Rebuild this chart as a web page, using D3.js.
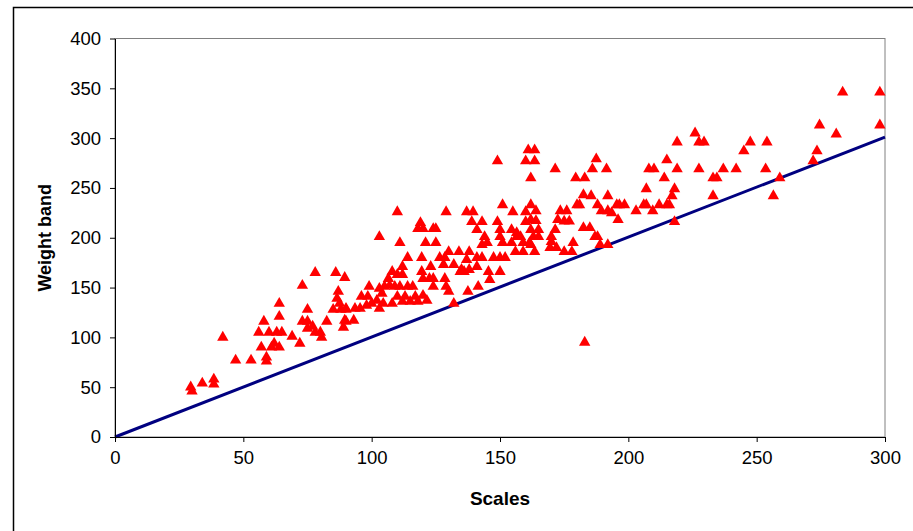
<!DOCTYPE html>
<html>
<head>
<meta charset="utf-8">
<script src="https://cdn.jsdelivr.net/npm/d3@7/dist/d3.min.js"></script>
<style>
  body { margin: 0; background: white; }
  svg { display: block; font-family: "Liberation Sans", Arial, sans-serif; }
</style>
</head>
<body>
<main></main>
<script>
// scales reading (x) and weight band (y)
const scales = [
  29.5, 30, 34, 38.5, 38.5, 42, 47, 53, 59, 59, 57, 58, 56, 60, 63, 65, 61, 62, 64, 64, 64, 69, 72, 73, 78,
  75, 73, 75, 75, 77, 78, 80, 80.5, 82.5, 86, 89.5, 87, 86.5, 87.5, 85, 88, 90, 90, 89,
  110, 103, 111, 119, 118, 120, 124, 125, 129, 137, 139.5, 139, 143, 141, 151, 155, 160, 149, 150, 154.5,
  156.5, 160, 144, 145, 143, 150, 151, 156.5, 158, 159, 154.5, 156, 159, 161.5, 121, 125, 130, 134, 138,
  114, 119.5, 126.5, 128.5, 137, 141, 143, 147.5, 150, 152, 112, 123, 128, 132, 135, 138, 141, 108, 110,
  106.5, 112, 119.5, 120, 122.5, 124, 128.5, 134.5, 136, 145.5, 150, 146, 129, 124, 99, 103, 105, 107, 109,
  111, 114, 116, 120, 117, 113, 115, 118, 121.5, 96, 98.5, 102, 104, 110, 108, 112, 90, 93.5, 95.5, 98, 100,
  103, 104.5, 89.5, 93, 132, 137.5, 141.5, 130,
  149, 161, 163.5, 160, 163.5, 162, 171.5, 179.5, 183, 187.5, 186, 191.5, 208, 210, 215, 214, 219, 219, 207,
  218, 162, 164, 162, 164, 162, 165, 165, 163, 163.5, 162, 170, 169.5, 172, 175, 178, 178.5, 171.5, 170,
  173.5, 176, 172.5, 175, 177, 180, 181, 182.5, 185.5, 188, 189.5, 192, 192, 195.5, 196.5, 198.5, 196, 193.5,
  182.5, 185, 187, 188, 189, 192, 203, 206, 207, 209.5, 212, 215, 216, 217, 218,
  226, 227.5, 229.5, 247.5, 254, 281, 245, 273.5, 272, 227.5, 237, 242, 253.5, 233, 234.5, 259, 233, 256.5,
  283.5, 298, 274.5, 298, 183
]
const weights = [
  50, 46, 54, 58, 53, 100, 77, 77, 80, 76, 90, 116, 105, 105, 105, 105, 90, 94, 90, 134, 121, 101, 94, 152, 165,
  128, 116, 116, 109, 111, 105, 105, 100, 116, 165, 160, 146, 139, 134, 128, 128, 128, 116, 110,
  226, 201, 195, 215, 209, 209, 209, 209, 226, 226, 226, 216, 216, 208, 233, 226, 226, 216, 208, 208,
  205, 216, 201, 195, 193, 201, 195, 201, 201, 195, 195, 186, 186, 195, 195, 195, 186, 186, 186,
  180, 180, 180, 180, 178, 180, 180, 180, 180, 180, 171, 171, 173, 173, 168, 168, 171, 166, 163,
  159, 163, 166, 159, 159, 159, 159, 166, 166, 166, 166, 158, 151, 151, 151, 149, 151, 152, 151,
  151, 151, 151, 142, 141, 141, 136, 136, 137, 141, 141, 137, 144, 141, 134, 136, 129, 129, 129, 132, 134,
  129, 134, 117, 117, 134, 146, 151, 146,
  277, 288, 288, 277, 277, 260, 269, 260, 260, 279, 269, 269, 269, 269, 278, 260, 269, 296, 249,
  249, 233, 227, 218, 217, 208, 208, 201, 201, 186, 193, 196, 190, 190, 186, 186, 195, 208, 201,
  227, 227, 218, 216.5, 216.5, 233, 233, 243, 242, 233, 227, 227, 242, 233, 233, 233, 218, 225,
  210, 210, 201, 201, 193, 193, 227, 233, 233, 227, 233, 233, 233, 242, 216,
  305, 296, 296, 296, 296, 304, 287, 287, 277, 269, 269, 269, 269, 260, 260, 260, 242, 242,
  346, 346, 313, 313, 95
]
const fitLine = [[0, 0], [300, 301]]

const xTicks = [0, 50, 100, 150, 200, 250, 300]
const yTicks = [0, 50, 100, 150, 200, 250, 300, 350, 400]

const svgWidth = 913
const svgHeight = 531

const plotLeft = 115, plotRight = 885, plotTop = 38.5, plotBottom = 437

let svg = d3.select("main")
  .append("svg")
  .attr("width", svgWidth)
  .attr("height", svgHeight)

// chart area border
svg.append("rect")
  .attr("x", 13.5)
  .attr("y", 7.5)
  .attr("width", svgWidth + 10)
  .attr("height", svgHeight + 10)
  .attr("fill", "white")
  .attr("stroke", "black")
  .attr("stroke-width", 1.5)

let xScale = d3.scaleLinear().domain([0, 300]).range([plotLeft, plotRight])
let yScale = d3.scaleLinear().domain([0, 400]).range([plotBottom, plotTop])

// plot area outline (grey top / right)
svg.append("rect")
  .attr("x", plotLeft)
  .attr("y", plotTop)
  .attr("width", plotRight - plotLeft)
  .attr("height", plotBottom - plotTop)
  .attr("fill", "white")
  .attr("stroke", "#808080")
  .attr("stroke-width", 1)

// fit line
svg.append("path")
  .datum(fitLine)
  .attr("d", d3.line().x(d => xScale(d[0])).y(d => yScale(d[1])))
  .attr("fill", "none")
  .attr("stroke", "#000080")
  .attr("stroke-width", 3)

// points
let pts = scales.map((s, i) => ({ x: s, y: weights[i] }))
svg.append("g")
  .selectAll("path")
  .data(pts)
  .enter()
  .append("path")
  .attr("d", d3.symbol().type(d3.symbolTriangle).size(56))
  .attr("transform", d => `translate(${xScale(d.x)}, ${yScale(d.y)})`)
  .attr("fill", "#ff0000")

/* axes */

let xAxis = svg.append("g")
  .attr("transform", `translate(0, ${plotBottom})`)
  .call(d3.axisBottom(xScale).tickValues(xTicks).tickSize(5).tickSizeOuter(0).tickPadding(9))

let yAxis = svg.append("g")
  .attr("transform", `translate(${plotLeft}, 0)`)
  .call(d3.axisLeft(yScale).tickValues(yTicks).tickSize(5).tickSizeOuter(0).tickPadding(9))

svg.selectAll(".domain, .tick line")
  .attr("stroke", "black")
  .attr("stroke-width", 1)

svg.selectAll(".tick text")
  .attr("fill", "black")
  .style("font-size", "18.5px")
  .style("font-family", "Liberation Sans, Arial, sans-serif")

svg.append("text")
  .attr("x", (plotLeft + plotRight) / 2)
  .attr("y", 505)
  .attr("text-anchor", "middle")
  .style("font-size", "19px")
  .style("font-weight", "bold")
  .text("Scales")

svg.append("text")
  .attr("transform", `translate(51, ${(plotTop + plotBottom) / 2}) rotate(-90)`)
  .attr("text-anchor", "middle")
  .style("font-size", "18px")
  .style("font-weight", "bold")
  .text("Weight band")
</script>
</body>
</html>
